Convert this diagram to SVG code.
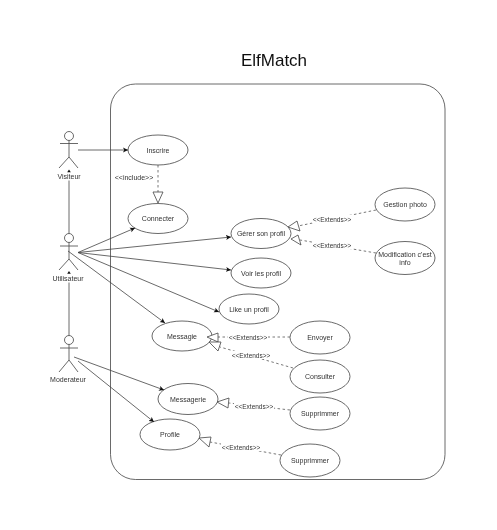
<svg xmlns="http://www.w3.org/2000/svg" width="497" height="530" viewBox="0 0 497 530">
<style>
text{font-family:"Liberation Sans",Arial,sans-serif;font-size:7px;fill:#333;text-anchor:middle;dominant-baseline:central;filter:url(#s)}
.title{font-size:17px;fill:#111}
.x{font-size:6.500px}
ellipse,.frame{fill:#fff;stroke:#444;stroke-width:.8}
.actor *{fill:none;stroke:#444;stroke-width:.8}
.actor text{fill:#333;stroke:none}
.c{fill:none;stroke:#444;stroke-width:.8}
.d{fill:none;stroke:#555;stroke-width:.8;stroke-dasharray:2.500 2.500}
.t{fill:#fff;stroke:#444;stroke-width:.8}
.h{fill:#111}
.bg{fill:#fff;stroke:none}
</style>
<defs>
<filter id="s" x="-10%" y="-30%" width="120%" height="160%"><feGaussianBlur stdDeviation=".2"/></filter>
<marker id="a" markerUnits="userSpaceOnUse" markerWidth="6" markerHeight="6" refX="5" refY="3" orient="auto"><path d="M0 .5L5 3L0 5.500L1.200 3Z" fill="#111"/></marker>
</defs>
<rect id="frame" class="frame" x="110.500" y="84" width="334.500" height="395.500" rx="25"/>
<text class="title" x="274" y="60">ElfMatch</text>
<g id="visiteur" class="actor"><circle cx="69" cy="136" r="4.500"/><path d="M60 143.500H78M69 140.500V157M59 168L69 157L78 168"/><text x="69" y="176">Visiteur</text></g>
<g id="utilisateur" class="actor"><circle cx="69" cy="238" r="4.500"/><path d="M60 246H78M69 242.500V259M59 270L69 259L78 270"/><text x="68" y="278">Utilisateur</text></g>
<g id="moderateur" class="actor"><circle cx="69" cy="340" r="4.500"/><path d="M60 348H78M69 344.500V360M59 372L69 360L78 372"/><text x="68" y="379">Moderateur</text></g>
<g id="inscrire"><ellipse cx="158" cy="150" rx="30" ry="15"/><text x="158" y="150">Inscrire</text></g>
<g id="connecter"><ellipse cx="158" cy="218.500" rx="30" ry="15"/><text x="158" y="218.500">Connecter</text></g>
<g id="gerer"><ellipse cx="261" cy="233.500" rx="30" ry="15"/><text x="261" y="233.500">Gérer son profil</text></g>
<g id="voir"><ellipse cx="261" cy="273" rx="30" ry="15"/><text x="261" y="273">Voir les profil</text></g>
<g id="like"><ellipse cx="249" cy="309" rx="30" ry="15"/><text x="249" y="309">Like un profil</text></g>
<g id="gestion"><ellipse cx="405" cy="204.500" rx="30" ry="16.500"/><text x="405" y="204.500">Gestion photo</text></g>
<g id="modification"><ellipse cx="405" cy="258" rx="30" ry="16.500"/><text x="405" y="254">Modification c'est</text><text x="405" y="262">info</text></g>
<g id="messagie"><ellipse cx="182" cy="336" rx="30" ry="15"/><text x="182" y="336">Messagie</text></g>
<g id="envoyer"><ellipse cx="320" cy="337.500" rx="30" ry="16.500"/><text x="320" y="337.500">Envoyer</text></g>
<g id="consulter"><ellipse cx="320" cy="376.500" rx="30" ry="16.500"/><text x="320" y="376.500">Consulter</text></g>
<g id="messagerie"><ellipse cx="188" cy="399" rx="30" ry="15.500"/><text x="188" y="399">Messagerie</text></g>
<g id="supprimmer1"><ellipse cx="320" cy="413.500" rx="30" ry="16.500"/><text x="320" y="413.500">Supprimmer</text></g>
<g id="profile"><ellipse cx="170" cy="434.500" rx="30" ry="15.500"/><text x="170" y="434.500">Profile</text></g>
<g id="supprimmer2"><ellipse cx="310" cy="460.500" rx="30" ry="16.500"/><text x="310" y="460.500">Supprimmer</text></g>
<g id="connectors">
<path class="c" marker-end="url(#a)" d="M78 150H128"/>
<path class="c" marker-end="url(#a)" d="M78 252.500L135 228"/>
<path class="c" marker-end="url(#a)" d="M78 252.500L231 237"/>
<path class="c" marker-end="url(#a)" d="M78 252.500L231 270"/>
<path class="c" marker-end="url(#a)" d="M78 252.500L219 312"/>
<path class="c" marker-end="url(#a)" d="M68 251L165 323"/>
<path class="c" marker-end="url(#a)" d="M74 357L164 390"/>
<path class="c" marker-end="url(#a)" d="M78 361L154 422"/>
<path class="c" d="M69 233.500V180.500"/>
<path class="h" d="M69 169.500L70.800 172.300H67.200Z"/>
<path class="c" d="M69 335.500V282.500"/>
<path class="h" d="M69 271L70.800 273.800H67.200Z"/>
<path class="d" d="M158 165V192"/>
<path class="t" d="M153 192H163L158 203Z"/>
<path class="d" d="M376 210L298 226"/>
<path class="t" d="M288 227L297 221L300 231Z"/>
<path class="d" d="M376 253L300 240"/>
<path class="t" d="M291 239L298 235L301 245Z"/>
<path class="d" d="M290 337H218"/>
<path class="t" d="M207 337L218 333V342Z"/>
<path class="d" d="M293 368L220 347"/>
<path class="t" d="M209 342L221 342L218 351Z"/>
<path class="d" d="M290 410L229 403"/>
<path class="t" d="M217 402L229 398L228 408Z"/>
<path class="d" d="M281 455L210 442"/>
<path class="t" d="M199 438L211 437L209 447Z"/>
</g>
<g id="edge-labels">
<text x="134" y="177">&lt;&lt;include&gt;&gt;</text>
<rect class="bg" x="312" y="215" width="40" height="8"/><text class="x" x="332" y="219">&lt;&lt;Extends&gt;&gt;</text>
<rect class="bg" x="312" y="241" width="40" height="8"/><text class="x" x="332" y="245">&lt;&lt;Extends&gt;&gt;</text>
<rect class="bg" x="228" y="333" width="40" height="8"/><text class="x" x="248" y="337">&lt;&lt;Extends&gt;&gt;</text>
<rect class="bg" x="231" y="351" width="40" height="8"/><text class="x" x="251" y="355">&lt;&lt;Extends&gt;&gt;</text>
<rect class="bg" x="234" y="402" width="40" height="8"/><text class="x" x="254" y="406">&lt;&lt;Extends&gt;&gt;</text>
<rect class="bg" x="221" y="443" width="40" height="8"/><text class="x" x="241" y="447">&lt;&lt;Extends&gt;&gt;</text>
</g>
</svg>
